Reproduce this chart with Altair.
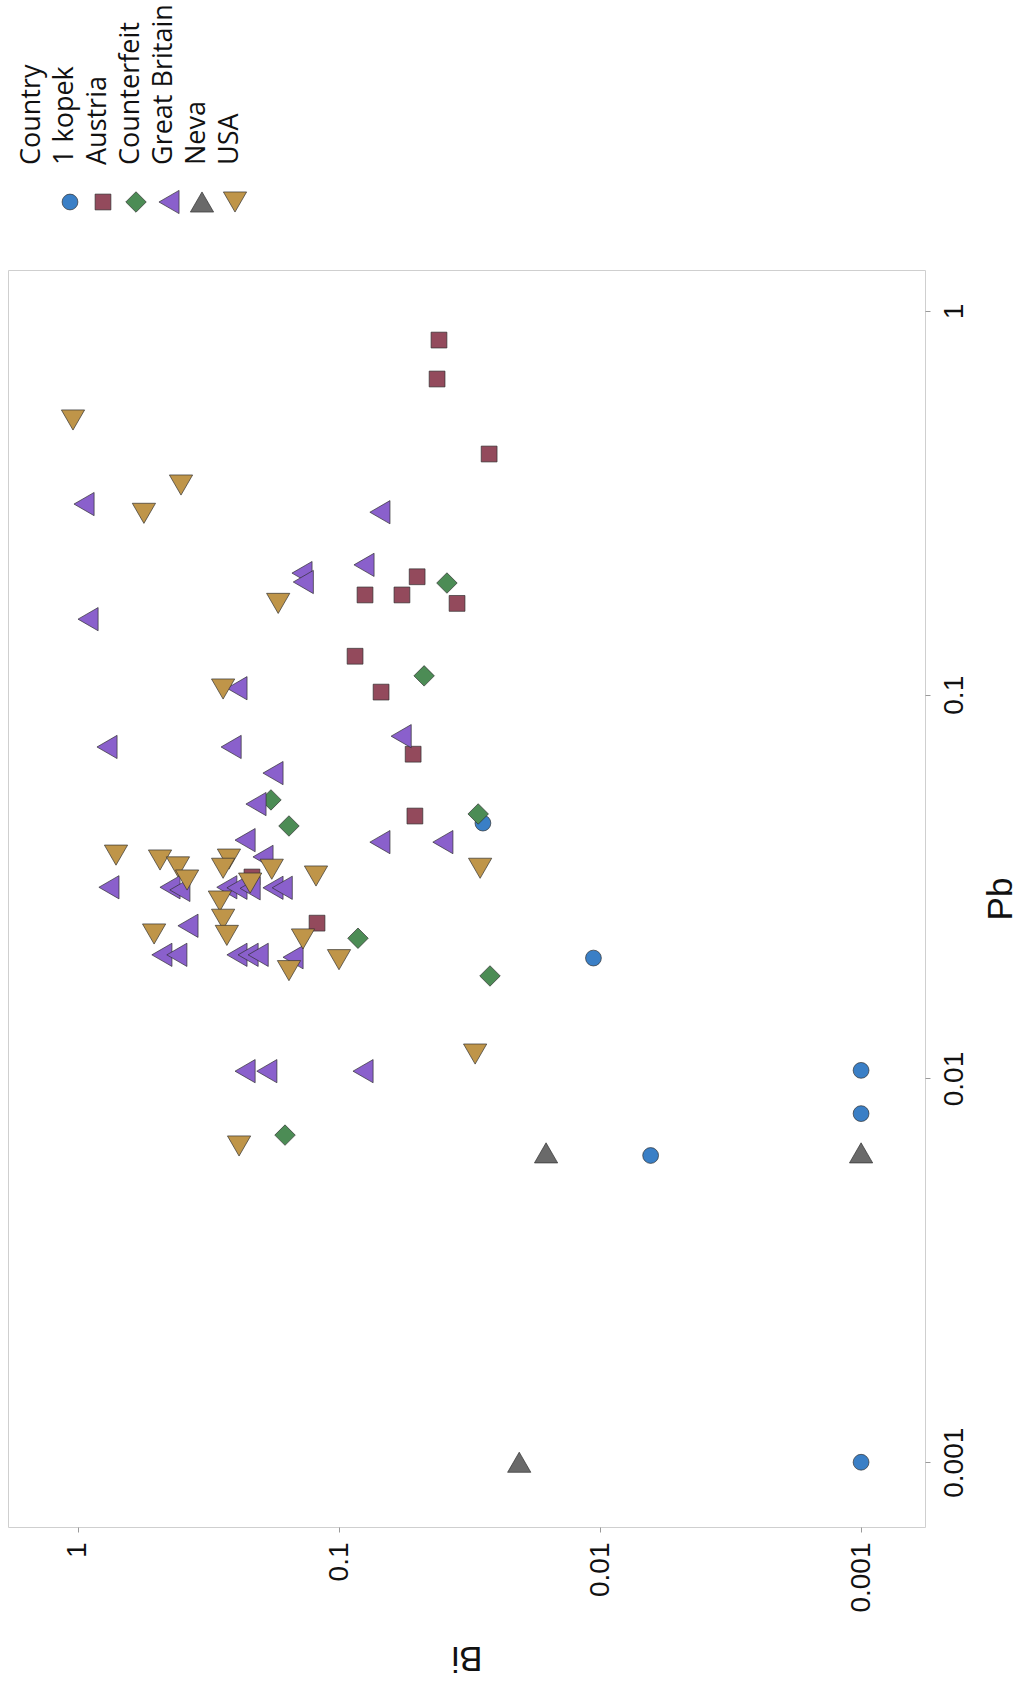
import altair as alt
import pandas as pd

# Bi vs Pb concentrations of coins by country, log-log scatter,
# laid out turned a quarter turn (Pb runs up the page, Bi runs right-to-left).

countries = ["1 kopek", "Austria", "Counterfeit", "Great Britain", "Neva", "USA"]

kopek_bi = [0.0281, 0.0106, 0.001, 0.001, 0.0064, 0.001]
kopek_pb = [0.0463, 0.0206, 0.0105, 0.0081, 0.0063, 0.001]

austria_bi = [0.0414, 0.0421, 0.0266, 0.0502, 0.0795, 0.0574, 0.0353,
              0.0868, 0.0690, 0.0520, 0.0512, 0.1214, 0.2155]
austria_pb = [0.840, 0.665, 0.424, 0.203, 0.182, 0.182, 0.173,
              0.126, 0.1016, 0.070, 0.0483, 0.0254, 0.0335]

counterfeit_bi = [0.0386, 0.0472, 0.1823, 0.1555, 0.0293, 0.0846, 0.0264, 0.161]
counterfeit_pb = [0.1955, 0.112, 0.0532, 0.0455, 0.0489, 0.0232, 0.0185, 0.00712]

gb_bi = [0.948, 0.0697, 0.0802, 0.1386, 0.137, 0.915, 0.246, 0.774, 0.259,
         0.0578, 0.179, 0.208, 0.229, 0.0697, 0.040, 0.1955, 0.761, 0.444,
         0.407, 0.269, 0.246, 0.219, 0.179, 0.165, 0.379, 0.477, 0.418,
         0.246, 0.223, 0.204, 0.150, 0.229, 0.189, 0.0809]
gb_pb = [0.314, 0.299, 0.218, 0.2075, 0.1967, 0.1574, 0.104, 0.0731, 0.0731,
         0.078, 0.0625, 0.0519, 0.0418, 0.0413, 0.0413, 0.0378, 0.0315, 0.0315,
         0.031, 0.0315, 0.0314, 0.0313, 0.0314, 0.0314, 0.025, 0.021, 0.021,
         0.021, 0.021, 0.021, 0.0207, 0.01045, 0.01045, 0.01045]

neva_bi = [0.0161, 0.001, 0.0204]
neva_pb = [0.0064, 0.0064, 0.001]

usa_bi = [1.045, 0.403, 0.559, 0.171, 0.278, 0.715, 0.485, 0.414, 0.382,
          0.264, 0.278, 0.181, 0.1225, 0.219, 0.286, 0.278, 0.269, 0.511,
          0.1374, 0.100, 0.1555, 0.0288, 0.0301, 0.2415]
usa_pb = [0.520, 0.352, 0.297, 0.173, 0.1035, 0.0382, 0.0371, 0.0356, 0.0329,
          0.0373, 0.0353, 0.0351, 0.0337, 0.0323, 0.029, 0.026, 0.0236, 0.0238,
          0.0231, 0.0204, 0.0191, 0.0353, 0.01158, 0.00667]

tick_values = [0.001, 0.01, 0.1, 1]

series = [
    ("1 kopek", kopek_bi, kopek_pb),
    ("Austria", austria_bi, austria_pb),
    ("Counterfeit", counterfeit_bi, counterfeit_pb),
    ("Great Britain", gb_bi, gb_pb),
    ("Neva", neva_bi, neva_pb),
    ("USA", usa_bi, usa_pb),
]
rows = []
for name, bis, pbs in series:
    for b, p in zip(bis, pbs):
        rows.append({"Country": name, "Bi": b, "Pb": p})
df = pd.DataFrame(rows)

colors = ["#3a7fc6", "#934a5c", "#4c8c55", "#8a60cc", "#6a6a6a", "#bf9549"]
shapes = ["circle", "square", "diamond", "triangle-left", "triangle-up", "triangle-down"]

color_scale = alt.Scale(domain=countries, range=colors)
shape_scale = alt.Scale(domain=countries, range=shapes)

# marker groups drawn at their own symbol area
marker_groups = [
    (["1 kopek", "Austria"], 250),
    (["Counterfeit"], 420),
    (["Great Britain", "Neva", "USA"], 540),
]

W, H = 917, 1257
AXIS_FONT = "Liberation Sans"
LEGEND_FONT = "Open Sans"

x_main = alt.X(
    "Bi:Q",
    scale=alt.Scale(type="log", domain=[0.000569, 1.854], reverse=True, nice=False),
    axis=alt.Axis(
        orient="bottom", values=tick_values, format="~g",
        labelAngle=270, labelAlign="right", labelBaseline="middle",
        labelFont=AXIS_FONT, labelFontSize=28, labelColor="#111",
        labelPadding=10, labelFlush=False, labelOverlap=False,
        tickSize=5, tickColor="#9a9a9a", domain=False, grid=False,
        title="Bi", titleAngle=180, titleFont=AXIS_FONT, titleFontSize=35,
        titleFontWeight="normal", titleColor="#111",
        titleX=W / 2, titleY=130, titleAlign="center", titleBaseline="middle",
    ),
)
y_main = alt.Y(
    "Pb:Q",
    scale=alt.Scale(type="log", domain=[0.000678, 1.279], nice=False),
    axis=alt.Axis(
        orient="right", values=tick_values, format="~g",
        labelAngle=270, labelAlign="center", labelBaseline="top",
        labelFont=AXIS_FONT, labelFontSize=28, labelColor="#111",
        labelPadding=10, labelFlush=False, labelOverlap=False,
        tickSize=5, tickColor="#9a9a9a", domain=False, grid=False,
        title="Pb", titleAngle=270, titleFont=AXIS_FONT, titleFontSize=35,
        titleFontWeight="normal", titleColor="#111",
        titleX=75, titleY=H / 2, titleAlign="center", titleBaseline="middle",
    ),
)


def marker(chart, size):
    return chart.mark_point(
        filled=True, opacity=1, size=size,
        stroke="#2e2e2e", strokeWidth=0.8, strokeOpacity=0.85,
    )


point_layers = []
for names, size in marker_groups:
    base = alt.Chart(df).transform_filter(
        alt.FieldOneOfPredicate(field="Country", oneOf=names)
    )
    point_layers.append(
        marker(base, size).encode(
            x=x_main if not point_layers else alt.X("Bi:Q"),
            y=y_main if not point_layers else alt.Y("Pb:Q"),
            color=alt.Color("Country:N", scale=color_scale, legend=None),
            shape=alt.Shape("Country:N", scale=shape_scale, legend=None),
        )
    )
points = alt.layer(*point_layers)

# Legend drawn as marks, turned to match the rest of the figure
legend_items = ["Country"] + countries
legend_x = alt.Scale(type="point", domain=legend_items, range=[24, 222], padding=0)

legend_text = alt.Chart(pd.DataFrame({"item": legend_items})).mark_text(
    angle=270, align="left", baseline="middle",
    font=LEGEND_FONT, fontSize=27, color="#111",
).encode(
    x=alt.X("item:N", scale=legend_x, axis=None),
    y=alt.value(-105),
    text="item:N",
)

legend_df = pd.DataFrame({"Country": countries})
symbol_layers = []
for names, size in marker_groups:
    base = alt.Chart(legend_df).transform_filter(
        alt.FieldOneOfPredicate(field="Country", oneOf=names)
    )
    symbol_layers.append(
        base.mark_point(
            filled=True, opacity=1, size=size, xOffset=5,
            stroke="#2e2e2e", strokeWidth=0.8, strokeOpacity=0.85,
        ).encode(
            x=alt.X("Country:N", scale=legend_x, axis=None),
            y=alt.value(-68),
            color=alt.Color("Country:N", scale=color_scale, legend=None),
            shape=alt.Shape("Country:N", scale=shape_scale, legend=None),
        )
    )
legend_symbols = alt.layer(legend_text, *symbol_layers)

chart = alt.layer(points, legend_symbols).resolve_scale(
    x="independent"
).properties(
    width=W,
    height=H,
    autosize=alt.AutoSizeParams(type="none"),
    padding={"left": 8, "top": 270, "right": 104, "bottom": 164},
    background="white",
).configure_view(
    stroke="#cfcfcf", strokeWidth=1
)

chart.save("out.html", embed_options={"renderer": "svg", "actions": False})
